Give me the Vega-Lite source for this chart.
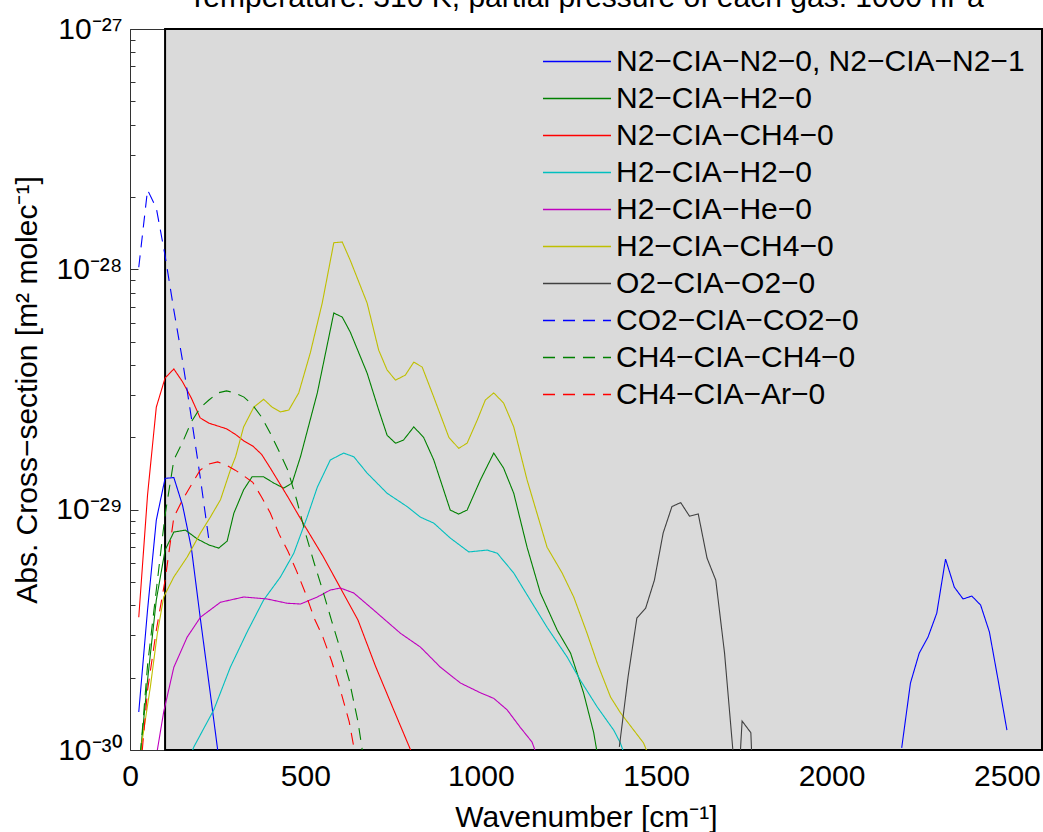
{
  "$schema": "https://vega.github.io/schema/vega-lite/v6.json",
  "width": 912,
  "height": 721,
  "autosize": {"type": "none"},
  "padding": {"left": 130, "top": 29, "right": 1, "bottom": 82},
  "background": "white",
  "title": {"text": "Temperature: 310 K, partial pressure of each gas: 1000 hPa", "fontSize": 30, "fontWeight": "normal", "font": "Liberation Sans", "anchor": "middle", "frame": "group", "baseline": "alphabetic", "offset": -23, "color": "black"},
  "config": {
    "font": "Liberation Sans",
    "view": {"stroke": null},
    "axis": {"labelFont": "Liberation Sans", "labelFontSize": 30, "labelColor": "black", "titleFont": "Liberation Sans", "titleFontSize": 30, "titleFontWeight": "normal", "titleColor": "black", "domainColor": "#333333", "tickColor": "#333333", "grid": false, "labelOverlap": false, "labelFlush": false, "labelBound": false},
    "legend": {"labelFont": "Liberation Sans", "labelFontSize": 30, "labelColor": "black", "symbolType": "stroke", "symbolSize": 4624, "symbolStrokeWidth": 1.5, "labelOffset": 4, "padding": 0, "labelLimit": 700, "clipHeight": 37, "rowPadding": 0}
  },
  "datasets": {
    "region": [{"x": 100, "x2": 2600, "y": 1e-30, "y2": 1e-27}],
    "curves": [
      {"s": "N2−CIA−N2−0, N2−CIA−N2−1", "seg": "lo", "x": 25, "y": 1.44e-30},
      {"s": "N2−CIA−N2−0, N2−CIA−N2−1", "seg": "lo", "x": 50, "y": 3.82e-30},
      {"s": "N2−CIA−N2−0, N2−CIA−N2−1", "seg": "lo", "x": 75, "y": 9.05e-30},
      {"s": "N2−CIA−N2−0, N2−CIA−N2−1", "seg": "lo", "x": 100, "y": 1.35e-29},
      {"s": "N2−CIA−N2−0, N2−CIA−N2−1", "seg": "lo", "x": 125, "y": 1.36e-29},
      {"s": "N2−CIA−N2−0, N2−CIA−N2−1", "seg": "lo", "x": 150, "y": 1.04e-29},
      {"s": "N2−CIA−N2−0, N2−CIA−N2−1", "seg": "lo", "x": 175, "y": 6.92e-30},
      {"s": "N2−CIA−N2−0, N2−CIA−N2−1", "seg": "lo", "x": 200, "y": 3.57e-30},
      {"s": "N2−CIA−N2−0, N2−CIA−N2−1", "seg": "lo", "x": 225, "y": 1.90e-30},
      {"s": "N2−CIA−N2−0, N2−CIA−N2−1", "seg": "lo", "x": 250, "y": 1.0e-30},
      {"s": "N2−CIA−N2−0, N2−CIA−N2−1", "seg": "lo", "x": 275, "y": 5.1e-31},
      {"s": "N2−CIA−N2−0, N2−CIA−N2−1", "seg": "hi", "x": 2200, "y": 1.02e-30},
      {"s": "N2−CIA−N2−0, N2−CIA−N2−1", "seg": "hi", "x": 2225, "y": 1.90e-30},
      {"s": "N2−CIA−N2−0, N2−CIA−N2−1", "seg": "hi", "x": 2250, "y": 2.53e-30},
      {"s": "N2−CIA−N2−0, N2−CIA−N2−1", "seg": "hi", "x": 2275, "y": 2.95e-30},
      {"s": "N2−CIA−N2−0, N2−CIA−N2−1", "seg": "hi", "x": 2300, "y": 3.71e-30},
      {"s": "N2−CIA−N2−0, N2−CIA−N2−1", "seg": "hi", "x": 2325, "y": 6.23e-30},
      {"s": "N2−CIA−N2−0, N2−CIA−N2−1", "seg": "hi", "x": 2350, "y": 4.76e-30},
      {"s": "N2−CIA−N2−0, N2−CIA−N2−1", "seg": "hi", "x": 2375, "y": 4.25e-30},
      {"s": "N2−CIA−N2−0, N2−CIA−N2−1", "seg": "hi", "x": 2400, "y": 4.37e-30},
      {"s": "N2−CIA−N2−0, N2−CIA−N2−1", "seg": "hi", "x": 2425, "y": 4.01e-30},
      {"s": "N2−CIA−N2−0, N2−CIA−N2−1", "seg": "hi", "x": 2450, "y": 3.10e-30},
      {"s": "N2−CIA−N2−0, N2−CIA−N2−1", "seg": "hi", "x": 2475, "y": 1.95e-30},
      {"s": "N2−CIA−N2−0, N2−CIA−N2−1", "seg": "hi", "x": 2500, "y": 1.21e-30},

      {"s": "N2−CIA−H2−0", "x": 25, "y": 8.24e-31},
      {"s": "N2−CIA−H2−0", "x": 50, "y": 1.95e-30},
      {"s": "N2−CIA−H2−0", "x": 75, "y": 4.21e-30},
      {"s": "N2−CIA−H2−0", "x": 100, "y": 6.79e-30},
      {"s": "N2−CIA−H2−0", "x": 125, "y": 8.07e-30},
      {"s": "N2−CIA−H2−0", "x": 158, "y": 8.22e-30},
      {"s": "N2−CIA−H2−0", "x": 192, "y": 7.55e-30},
      {"s": "N2−CIA−H2−0", "x": 225, "y": 7.13e-30},
      {"s": "N2−CIA−H2−0", "x": 253, "y": 6.92e-30},
      {"s": "N2−CIA−H2−0", "x": 277, "y": 7.40e-30},
      {"s": "N2−CIA−H2−0", "x": 296, "y": 9.66e-30},
      {"s": "N2−CIA−H2−0", "x": 324, "y": 1.21e-29},
      {"s": "N2−CIA−H2−0", "x": 348, "y": 1.37e-29},
      {"s": "N2−CIA−H2−0", "x": 381, "y": 1.37e-29},
      {"s": "N2−CIA−H2−0", "x": 410, "y": 1.29e-29},
      {"s": "N2−CIA−H2−0", "x": 438, "y": 1.23e-29},
      {"s": "N2−CIA−H2−0", "x": 462, "y": 1.29e-29},
      {"s": "N2−CIA−H2−0", "x": 486, "y": 1.66e-29},
      {"s": "N2−CIA−H2−0", "x": 534, "y": 3.06e-29},
      {"s": "N2−CIA−H2−0", "x": 581, "y": 6.58e-29},
      {"s": "N2−CIA−H2−0", "x": 605, "y": 6.33e-29},
      {"s": "N2−CIA−H2−0", "x": 628, "y": 5.48e-29},
      {"s": "N2−CIA−H2−0", "x": 676, "y": 3.70e-29},
      {"s": "N2−CIA−H2−0", "x": 709, "y": 2.60e-29},
      {"s": "N2−CIA−H2−0", "x": 733, "y": 2.04e-29},
      {"s": "N2−CIA−H2−0", "x": 757, "y": 1.89e-29},
      {"s": "N2−CIA−H2−0", "x": 780, "y": 1.95e-29},
      {"s": "N2−CIA−H2−0", "x": 809, "y": 2.21e-29},
      {"s": "N2−CIA−H2−0", "x": 837, "y": 2.00e-29},
      {"s": "N2−CIA−H2−0", "x": 866, "y": 1.61e-29},
      {"s": "N2−CIA−H2−0", "x": 913, "y": 9.96e-30},
      {"s": "N2−CIA−H2−0", "x": 937, "y": 9.59e-30},
      {"s": "N2−CIA−H2−0", "x": 961, "y": 9.96e-30},
      {"s": "N2−CIA−H2−0", "x": 999, "y": 1.33e-29},
      {"s": "N2−CIA−H2−0", "x": 1037, "y": 1.72e-29},
      {"s": "N2−CIA−H2−0", "x": 1065, "y": 1.49e-29},
      {"s": "N2−CIA−H2−0", "x": 1094, "y": 1.17e-29},
      {"s": "N2−CIA−H2−0", "x": 1132, "y": 6.98e-30},
      {"s": "N2−CIA−H2−0", "x": 1170, "y": 4.50e-30},
      {"s": "N2−CIA−H2−0", "x": 1218, "y": 3.15e-30},
      {"s": "N2−CIA−H2−0", "x": 1256, "y": 2.53e-30},
      {"s": "N2−CIA−H2−0", "x": 1293, "y": 1.73e-30},
      {"s": "N2−CIA−H2−0", "x": 1322, "y": 1.18e-30},
      {"s": "N2−CIA−H2−0", "x": 1350, "y": 6.81e-31},

      {"s": "N2−CIA−CH4−0", "x": 25, "y": 3.57e-30},
      {"s": "N2−CIA−CH4−0", "x": 50, "y": 1.15e-29},
      {"s": "N2−CIA−CH4−0", "x": 75, "y": 2.67e-29},
      {"s": "N2−CIA−CH4−0", "x": 100, "y": 3.53e-29},
      {"s": "N2−CIA−CH4−0", "x": 125, "y": 3.85e-29},
      {"s": "N2−CIA−CH4−0", "x": 150, "y": 3.40e-29},
      {"s": "N2−CIA−CH4−0", "x": 175, "y": 2.91e-29},
      {"s": "N2−CIA−CH4−0", "x": 200, "y": 2.41e-29},
      {"s": "N2−CIA−CH4−0", "x": 225, "y": 2.29e-29},
      {"s": "N2−CIA−CH4−0", "x": 250, "y": 2.23e-29},
      {"s": "N2−CIA−CH4−0", "x": 275, "y": 2.17e-29},
      {"s": "N2−CIA−CH4−0", "x": 300, "y": 2.06e-29},
      {"s": "N2−CIA−CH4−0", "x": 325, "y": 1.93e-29},
      {"s": "N2−CIA−CH4−0", "x": 350, "y": 1.84e-29},
      {"s": "N2−CIA−CH4−0", "x": 375, "y": 1.70e-29},
      {"s": "N2−CIA−CH4−0", "x": 400, "y": 1.49e-29},
      {"s": "N2−CIA−CH4−0", "x": 450, "y": 1.13e-29},
      {"s": "N2−CIA−CH4−0", "x": 500, "y": 8.47e-30},
      {"s": "N2−CIA−CH4−0", "x": 550, "y": 6.41e-30},
      {"s": "N2−CIA−CH4−0", "x": 600, "y": 4.72e-30},
      {"s": "N2−CIA−CH4−0", "x": 650, "y": 3.47e-30},
      {"s": "N2−CIA−CH4−0", "x": 700, "y": 2.23e-30},
      {"s": "N2−CIA−CH4−0", "x": 750, "y": 1.49e-30},
      {"s": "N2−CIA−CH4−0", "x": 800, "y": 1.0e-30},
      {"s": "N2−CIA−CH4−0", "x": 850, "y": 6.49e-31},

      {"s": "H2−CIA−H2−0", "x": 160, "y": 8.5e-31},
      {"s": "H2−CIA−H2−0", "x": 182, "y": 1.03e-30},
      {"s": "H2−CIA−H2−0", "x": 239, "y": 1.47e-30},
      {"s": "H2−CIA−H2−0", "x": 286, "y": 2.21e-30},
      {"s": "H2−CIA−H2−0", "x": 334, "y": 3.10e-30},
      {"s": "H2−CIA−H2−0", "x": 381, "y": 4.21e-30},
      {"s": "H2−CIA−H2−0", "x": 429, "y": 5.25e-30},
      {"s": "H2−CIA−H2−0", "x": 467, "y": 6.59e-30},
      {"s": "H2−CIA−H2−0", "x": 505, "y": 9.31e-30},
      {"s": "H2−CIA−H2−0", "x": 534, "y": 1.24e-29},
      {"s": "H2−CIA−H2−0", "x": 571, "y": 1.61e-29},
      {"s": "H2−CIA−H2−0", "x": 609, "y": 1.72e-29},
      {"s": "H2−CIA−H2−0", "x": 638, "y": 1.66e-29},
      {"s": "H2−CIA−H2−0", "x": 676, "y": 1.42e-29},
      {"s": "H2−CIA−H2−0", "x": 733, "y": 1.17e-29},
      {"s": "H2−CIA−H2−0", "x": 790, "y": 1.03e-29},
      {"s": "H2−CIA−H2−0", "x": 828, "y": 9.31e-30},
      {"s": "H2−CIA−H2−0", "x": 866, "y": 8.79e-30},
      {"s": "H2−CIA−H2−0", "x": 913, "y": 7.62e-30},
      {"s": "H2−CIA−H2−0", "x": 966, "y": 6.67e-30},
      {"s": "H2−CIA−H2−0", "x": 1018, "y": 6.79e-30},
      {"s": "H2−CIA−H2−0", "x": 1047, "y": 6.59e-30},
      {"s": "H2−CIA−H2−0", "x": 1094, "y": 5.45e-30},
      {"s": "H2−CIA−H2−0", "x": 1141, "y": 4.21e-30},
      {"s": "H2−CIA−H2−0", "x": 1189, "y": 3.24e-30},
      {"s": "H2−CIA−H2−0", "x": 1246, "y": 2.44e-30},
      {"s": "H2−CIA−H2−0", "x": 1284, "y": 1.95e-30},
      {"s": "H2−CIA−H2−0", "x": 1332, "y": 1.51e-30},
      {"s": "H2−CIA−H2−0", "x": 1379, "y": 1.21e-30},
      {"s": "H2−CIA−H2−0", "x": 1398, "y": 1.07e-30},
      {"s": "H2−CIA−H2−0", "x": 1420, "y": 8.65e-31},

      {"s": "H2−CIA−He−0", "x": 70, "y": 8.24e-31},
      {"s": "H2−CIA−He−0", "x": 78, "y": 1.0e-30},
      {"s": "H2−CIA−He−0", "x": 96, "y": 1.44e-30},
      {"s": "H2−CIA−He−0", "x": 125, "y": 2.21e-30},
      {"s": "H2−CIA−He−0", "x": 163, "y": 2.95e-30},
      {"s": "H2−CIA−He−0", "x": 201, "y": 3.57e-30},
      {"s": "H2−CIA−He−0", "x": 258, "y": 4.12e-30},
      {"s": "H2−CIA−He−0", "x": 324, "y": 4.33e-30},
      {"s": "H2−CIA−He−0", "x": 391, "y": 4.25e-30},
      {"s": "H2−CIA−He−0", "x": 448, "y": 4.08e-30},
      {"s": "H2−CIA−He−0", "x": 486, "y": 4.05e-30},
      {"s": "H2−CIA−He−0", "x": 534, "y": 4.33e-30},
      {"s": "H2−CIA−He−0", "x": 571, "y": 4.63e-30},
      {"s": "H2−CIA−He−0", "x": 600, "y": 4.72e-30},
      {"s": "H2−CIA−He−0", "x": 638, "y": 4.50e-30},
      {"s": "H2−CIA−He−0", "x": 695, "y": 3.82e-30},
      {"s": "H2−CIA−He−0", "x": 771, "y": 3.06e-30},
      {"s": "H2−CIA−He−0", "x": 828, "y": 2.68e-30},
      {"s": "H2−CIA−He−0", "x": 885, "y": 2.21e-30},
      {"s": "H2−CIA−He−0", "x": 942, "y": 1.90e-30},
      {"s": "H2−CIA−He−0", "x": 999, "y": 1.73e-30},
      {"s": "H2−CIA−He−0", "x": 1037, "y": 1.64e-30},
      {"s": "H2−CIA−He−0", "x": 1075, "y": 1.47e-30},
      {"s": "H2−CIA−He−0", "x": 1113, "y": 1.24e-30},
      {"s": "H2−CIA−He−0", "x": 1146, "y": 1.08e-30},
      {"s": "H2−CIA−He−0", "x": 1170, "y": 8.65e-31},

      {"s": "H2−CIA−CH4−0", "x": 25, "y": 8.0e-31},
      {"s": "H2−CIA−CH4−0", "x": 35, "y": 1.10e-30},
      {"s": "H2−CIA−CH4−0", "x": 58, "y": 1.83e-30},
      {"s": "H2−CIA−CH4−0", "x": 78, "y": 3.06e-30},
      {"s": "H2−CIA−CH4−0", "x": 96, "y": 4.33e-30},
      {"s": "H2−CIA−CH4−0", "x": 125, "y": 5.25e-30},
      {"s": "H2−CIA−CH4−0", "x": 163, "y": 6.35e-30},
      {"s": "H2−CIA−CH4−0", "x": 201, "y": 8.0e-30},
      {"s": "H2−CIA−CH4−0", "x": 229, "y": 9.31e-30},
      {"s": "H2−CIA−CH4−0", "x": 258, "y": 1.10e-29},
      {"s": "H2−CIA−CH4−0", "x": 286, "y": 1.46e-29},
      {"s": "H2−CIA−CH4−0", "x": 301, "y": 1.66e-29},
      {"s": "H2−CIA−CH4−0", "x": 324, "y": 2.21e-29},
      {"s": "H2−CIA−CH4−0", "x": 353, "y": 2.67e-29},
      {"s": "H2−CIA−CH4−0", "x": 381, "y": 2.88e-29},
      {"s": "H2−CIA−CH4−0", "x": 405, "y": 2.67e-29},
      {"s": "H2−CIA−CH4−0", "x": 429, "y": 2.55e-29},
      {"s": "H2−CIA−CH4−0", "x": 453, "y": 2.60e-29},
      {"s": "H2−CIA−CH4−0", "x": 481, "y": 3.06e-29},
      {"s": "H2−CIA−CH4−0", "x": 514, "y": 4.49e-29},
      {"s": "H2−CIA−CH4−0", "x": 548, "y": 7.24e-29},
      {"s": "H2−CIA−CH4−0", "x": 581, "y": 1.29e-28},
      {"s": "H2−CIA−CH4−0", "x": 605, "y": 1.30e-28},
      {"s": "H2−CIA−CH4−0", "x": 628, "y": 1.09e-28},
      {"s": "H2−CIA−CH4−0", "x": 676, "y": 7.24e-29},
      {"s": "H2−CIA−CH4−0", "x": 709, "y": 4.61e-29},
      {"s": "H2−CIA−CH4−0", "x": 733, "y": 3.81e-29},
      {"s": "H2−CIA−CH4−0", "x": 757, "y": 3.46e-29},
      {"s": "H2−CIA−CH4−0", "x": 785, "y": 3.63e-29},
      {"s": "H2−CIA−CH4−0", "x": 809, "y": 4.11e-29},
      {"s": "H2−CIA−CH4−0", "x": 833, "y": 3.92e-29},
      {"s": "H2−CIA−CH4−0", "x": 866, "y": 2.94e-29},
      {"s": "H2−CIA−CH4−0", "x": 909, "y": 2.00e-29},
      {"s": "H2−CIA−CH4−0", "x": 937, "y": 1.80e-29},
      {"s": "H2−CIA−CH4−0", "x": 961, "y": 1.89e-29},
      {"s": "H2−CIA−CH4−0", "x": 990, "y": 2.36e-29},
      {"s": "H2−CIA−CH4−0", "x": 1013, "y": 2.86e-29},
      {"s": "H2−CIA−CH4−0", "x": 1037, "y": 3.06e-29},
      {"s": "H2−CIA−CH4−0", "x": 1065, "y": 2.78e-29},
      {"s": "H2−CIA−CH4−0", "x": 1094, "y": 2.21e-29},
      {"s": "H2−CIA−CH4−0", "x": 1132, "y": 1.33e-29},
      {"s": "H2−CIA−CH4−0", "x": 1189, "y": 6.98e-30},
      {"s": "H2−CIA−CH4−0", "x": 1232, "y": 5.45e-30},
      {"s": "H2−CIA−CH4−0", "x": 1265, "y": 4.33e-30},
      {"s": "H2−CIA−CH4−0", "x": 1303, "y": 3.06e-30},
      {"s": "H2−CIA−CH4−0", "x": 1332, "y": 2.30e-30},
      {"s": "H2−CIA−CH4−0", "x": 1370, "y": 1.66e-30},
      {"s": "H2−CIA−CH4−0", "x": 1398, "y": 1.43e-30},
      {"s": "H2−CIA−CH4−0", "x": 1436, "y": 1.21e-30},
      {"s": "H2−CIA−CH4−0", "x": 1464, "y": 1.07e-30},
      {"s": "H2−CIA−CH4−0", "x": 1490, "y": 8.65e-31},

      {"s": "O2−CIA−O2−0", "x": 1395, "y": 1.03e-30},
      {"s": "O2−CIA−O2−0", "x": 1420, "y": 2.02e-30},
      {"s": "O2−CIA−O2−0", "x": 1445, "y": 3.54e-30},
      {"s": "O2−CIA−O2−0", "x": 1470, "y": 3.89e-30},
      {"s": "O2−CIA−O2−0", "x": 1495, "y": 5.09e-30},
      {"s": "O2−CIA−O2−0", "x": 1520, "y": 8.0e-30},
      {"s": "O2−CIA−O2−0", "x": 1545, "y": 1.03e-29},
      {"s": "O2−CIA−O2−0", "x": 1570, "y": 1.07e-29},
      {"s": "O2−CIA−O2−0", "x": 1595, "y": 9.4e-30},
      {"s": "O2−CIA−O2−0", "x": 1620, "y": 9.6e-30},
      {"s": "O2−CIA−O2−0", "x": 1645, "y": 6.29e-30},
      {"s": "O2−CIA−O2−0", "x": 1670, "y": 5.09e-30},
      {"s": "O2−CIA−O2−0", "x": 1695, "y": 2.53e-30},
      {"s": "O2−CIA−O2−0", "x": 1720, "y": 9.5e-31},
      {"s": "O2−CIA−O2−0", "x": 1732, "y": 6.0e-31},
      {"s": "O2−CIA−O2−0", "x": 1745, "y": 1.32e-30},
      {"s": "O2−CIA−O2−0", "x": 1770, "y": 1.18e-30},
      {"s": "O2−CIA−O2−0", "x": 1780, "y": 5.0e-31},

      {"s": "CO2−CIA−CO2−0", "x": 25, "y": 1.02e-28},
      {"s": "CO2−CIA−CO2−0", "x": 50, "y": 2.14e-28},
      {"s": "CO2−CIA−CO2−0", "x": 75, "y": 1.80e-28},
      {"s": "CO2−CIA−CO2−0", "x": 100, "y": 1.14e-28},
      {"s": "CO2−CIA−CO2−0", "x": 125, "y": 6.77e-29},
      {"s": "CO2−CIA−CO2−0", "x": 150, "y": 4.15e-29},
      {"s": "CO2−CIA−CO2−0", "x": 175, "y": 2.41e-29},
      {"s": "CO2−CIA−CO2−0", "x": 200, "y": 1.37e-29},
      {"s": "CO2−CIA−CO2−0", "x": 225, "y": 7.47e-30},

      {"s": "CH4−CIA−CH4−0", "x": 25, "y": 7.87e-31},
      {"s": "CH4−CIA−CH4−0", "x": 50, "y": 2.25e-30},
      {"s": "CH4−CIA−CH4−0", "x": 75, "y": 4.63e-30},
      {"s": "CH4−CIA−CH4−0", "x": 100, "y": 9.50e-30},
      {"s": "CH4−CIA−CH4−0", "x": 125, "y": 1.61e-29},
      {"s": "CH4−CIA−CH4−0", "x": 150, "y": 1.91e-29},
      {"s": "CH4−CIA−CH4−0", "x": 175, "y": 2.32e-29},
      {"s": "CH4−CIA−CH4−0", "x": 200, "y": 2.65e-29},
      {"s": "CH4−CIA−CH4−0", "x": 225, "y": 2.86e-29},
      {"s": "CH4−CIA−CH4−0", "x": 250, "y": 3.06e-29},
      {"s": "CH4−CIA−CH4−0", "x": 275, "y": 3.12e-29},
      {"s": "CH4−CIA−CH4−0", "x": 300, "y": 3.06e-29},
      {"s": "CH4−CIA−CH4−0", "x": 325, "y": 2.94e-29},
      {"s": "CH4−CIA−CH4−0", "x": 350, "y": 2.72e-29},
      {"s": "CH4−CIA−CH4−0", "x": 375, "y": 2.43e-29},
      {"s": "CH4−CIA−CH4−0", "x": 400, "y": 2.08e-29},
      {"s": "CH4−CIA−CH4−0", "x": 425, "y": 1.75e-29},
      {"s": "CH4−CIA−CH4−0", "x": 450, "y": 1.46e-29},
      {"s": "CH4−CIA−CH4−0", "x": 475, "y": 1.10e-29},
      {"s": "CH4−CIA−CH4−0", "x": 500, "y": 8.0e-30},
      {"s": "CH4−CIA−CH4−0", "x": 525, "y": 6.0e-30},
      {"s": "CH4−CIA−CH4−0", "x": 550, "y": 4.58e-30},
      {"s": "CH4−CIA−CH4−0", "x": 575, "y": 3.44e-30},
      {"s": "CH4−CIA−CH4−0", "x": 600, "y": 2.61e-30},
      {"s": "CH4−CIA−CH4−0", "x": 625, "y": 1.95e-30},
      {"s": "CH4−CIA−CH4−0", "x": 650, "y": 1.31e-30},
      {"s": "CH4−CIA−CH4−0", "x": 675, "y": 7.50e-31},

      {"s": "CH4−CIA−Ar−0", "x": 25, "y": 6.81e-31},
      {"s": "CH4−CIA−Ar−0", "x": 50, "y": 1.77e-30},
      {"s": "CH4−CIA−Ar−0", "x": 75, "y": 3.15e-30},
      {"s": "CH4−CIA−Ar−0", "x": 100, "y": 5.09e-30},
      {"s": "CH4−CIA−Ar−0", "x": 125, "y": 9.31e-30},
      {"s": "CH4−CIA−Ar−0", "x": 150, "y": 1.10e-29},
      {"s": "CH4−CIA−Ar−0", "x": 175, "y": 1.27e-29},
      {"s": "CH4−CIA−Ar−0", "x": 200, "y": 1.46e-29},
      {"s": "CH4−CIA−Ar−0", "x": 225, "y": 1.55e-29},
      {"s": "CH4−CIA−Ar−0", "x": 250, "y": 1.58e-29},
      {"s": "CH4−CIA−Ar−0", "x": 275, "y": 1.53e-29},
      {"s": "CH4−CIA−Ar−0", "x": 300, "y": 1.46e-29},
      {"s": "CH4−CIA−Ar−0", "x": 325, "y": 1.38e-29},
      {"s": "CH4−CIA−Ar−0", "x": 350, "y": 1.30e-29},
      {"s": "CH4−CIA−Ar−0", "x": 375, "y": 1.13e-29},
      {"s": "CH4−CIA−Ar−0", "x": 400, "y": 9.68e-30},
      {"s": "CH4−CIA−Ar−0", "x": 425, "y": 7.91e-30},
      {"s": "CH4−CIA−Ar−0", "x": 450, "y": 6.73e-30},
      {"s": "CH4−CIA−Ar−0", "x": 475, "y": 5.55e-30},
      {"s": "CH4−CIA−Ar−0", "x": 500, "y": 4.50e-30},
      {"s": "CH4−CIA−Ar−0", "x": 525, "y": 3.54e-30},
      {"s": "CH4−CIA−Ar−0", "x": 550, "y": 2.95e-30},
      {"s": "CH4−CIA−Ar−0", "x": 575, "y": 2.34e-30},
      {"s": "CH4−CIA−Ar−0", "x": 600, "y": 1.77e-30},
      {"s": "CH4−CIA−Ar−0", "x": 625, "y": 1.31e-30},
      {"s": "CH4−CIA−Ar−0", "x": 650, "y": 8.24e-31}
    ]
  },
  "layer": [
    {
      "data": {"name": "region"},
      "mark": {"type": "rect", "fill": "#dadada", "stroke": "black", "strokeWidth": 2},
      "encoding": {
        "x": {"field": "x", "type": "quantitative", "scale": {"domain": [0, 2600], "nice": false, "zero": false},
              "axis": {"orient": "bottom", "values": [0, 500, 1000, 1500, 2000, 2500], "format": "d", "tickSize": -8, "labelPadding": 19, "title": "Wavenumber [cm⁻¹]", "titlePadding": 11}},
        "x2": {"field": "x2"},
        "y": {"field": "y", "type": "quantitative", "scale": {"type": "log", "domain": [1e-30, 1e-27], "nice": false},
              "axis": {"orient": "left", "values": [1e-30, 2e-30, 3e-30, 4e-30, 5e-30, 6e-30, 7e-30, 8e-30, 9e-30, 1e-29, 2e-29, 3e-29, 4e-29, 5e-29, 6e-29, 7e-29, 8e-29, 9e-29, 1e-28, 2e-28, 3e-28, 4e-28, 5e-28, 6e-28, 7e-28, 8e-28, 9e-28, 1e-27],
                       "labelExpr": "datum.value < 1.5e-30 ? '10⁻³⁰' : (datum.value > 0.95e-29 && datum.value < 1.05e-29) ? '10⁻²⁹' : (datum.value > 0.95e-28 && datum.value < 1.05e-28) ? '10⁻²⁸' : datum.value > 0.95e-27 ? '10⁻²⁷' : ''",
                       "tickSize": {"condition": {"test": "abs(log(datum.value)/LN10 - round(log(datum.value)/LN10)) < 0.01", "value": -8}, "value": -5},
                       "labelPadding": 16, "labelBaseline": "middle",
                       "title": "Abs. Cross−section [m² molec⁻¹]", "titlePadding": 13}},
        "y2": {"field": "y2"}
      }
    },
    {
      "data": {"name": "curves"},
      "mark": {"type": "line", "clip": true, "strokeWidth": 1.1},
      "encoding": {
        "x": {"field": "x", "type": "quantitative", "scale": {"domain": [0, 2600], "nice": false, "zero": false},
              "axis": {"orient": "top", "values": [0, 500, 1000, 1500, 2000, 2500], "tickSize": -8, "labels": false, "title": null}},
        "y": {"field": "y", "type": "quantitative", "scale": {"type": "log", "domain": [1e-30, 1e-27], "nice": false},
              "axis": {"orient": "right", "values": [1e-30, 2e-30, 3e-30, 4e-30, 5e-30, 6e-30, 7e-30, 8e-30, 9e-30, 1e-29, 2e-29, 3e-29, 4e-29, 5e-29, 6e-29, 7e-29, 8e-29, 9e-29, 1e-28, 2e-28, 3e-28, 4e-28, 5e-28, 6e-28, 7e-28, 8e-28, 9e-28, 1e-27],
                       "labels": false, "title": null,
                       "tickSize": {"condition": {"test": "abs(log(datum.value)/LN10 - round(log(datum.value)/LN10)) < 0.01", "value": -8}, "value": -5}}},
        "color": {"field": "s", "type": "nominal",
                  "scale": {"domain": ["N2−CIA−N2−0, N2−CIA−N2−1", "N2−CIA−H2−0", "N2−CIA−CH4−0", "H2−CIA−H2−0", "H2−CIA−He−0", "H2−CIA−CH4−0", "O2−CIA−O2−0", "CO2−CIA−CO2−0", "CH4−CIA−CH4−0", "CH4−CIA−Ar−0"],
                            "range": ["#0000ff", "#008000", "#ff0000", "#00bfbf", "#bf00bf", "#bfbf00", "#404040", "#0000ff", "#008000", "#ff0000"]},
                  "legend": {"title": null, "orient": "none", "legendX": 412, "legendY": 14}},
        "strokeDash": {"field": "s", "type": "nominal",
                  "scale": {"domain": ["N2−CIA−N2−0, N2−CIA−N2−1", "N2−CIA−H2−0", "N2−CIA−CH4−0", "H2−CIA−H2−0", "H2−CIA−He−0", "H2−CIA−CH4−0", "O2−CIA−O2−0", "CO2−CIA−CO2−0", "CH4−CIA−CH4−0", "CH4−CIA−Ar−0"],
                            "range": [[1, 0], [1, 0], [1, 0], [1, 0], [1, 0], [1, 0], [1, 0], [12, 8], [12, 8], [12, 8]]},
                  "legend": {"title": null, "orient": "none", "legendX": 412, "legendY": 14}},
        "detail": {"field": "seg", "type": "nominal"}
      }
    }
  ],
  "resolve": {"axis": {"x": "independent", "y": "independent"}}
}
